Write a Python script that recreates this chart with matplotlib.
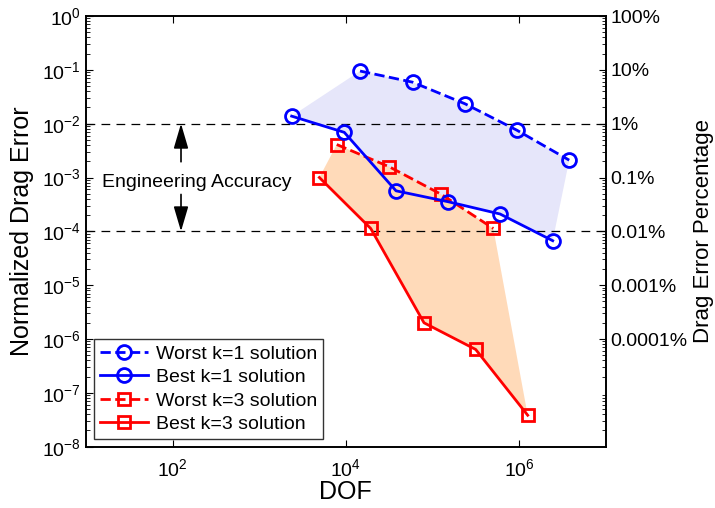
import numpy as np
import matplotlib.pyplot as plt
from matplotlib.ticker import FixedLocator, LogLocator, NullFormatter

plt.rcParams['font.family'] = ['Liberation Sans', 'DejaVu Sans']
plt.rcParams['mathtext.fontset'] = 'custom'
plt.rcParams['mathtext.rm'] = 'Liberation Sans'
plt.rcParams['mathtext.it'] = 'Liberation Sans'

# data
worst_k1_dof = [1.46e4, 5.9e4, 2.38e5, 9.4e5, 3.8e6]
worst_k1_err = [0.095, 0.059, 0.0234, 0.0076, 0.0021]
best_k1_dof = [2370, 9600, 3.8e4, 1.53e5, 6.04e5, 2.45e6]
best_k1_err = [0.0138, 0.0069, 5.66e-4, 3.54e-4, 2.1e-4, 6.7e-5]
worst_k3_dof = [7860, 3.18e4, 1.27e5, 5.05e5]
worst_k3_err = [4.1e-3, 1.58e-3, 4.85e-4, 1.13e-4]
best_k3_dof = [4950, 1.94e4, 8.0e4, 3.16e5, 1.26e6]
best_k3_err = [1.0e-3, 1.13e-4, 2.0e-6, 6.4e-7, 3.84e-8]

accuracy_band = [1e-2, 1e-4]
x_ticks = [1e2, 1e4, 1e6]
y_ticks = [1e-8, 1e-7, 1e-6, 1e-5, 1e-4, 1e-3, 1e-2, 1e-1, 1e0]
pct_ticks = [1e0, 1e-1, 1e-2, 1e-3, 1e-4, 1e-5, 1e-6]
pct_labels = ['100%', '10%', '1%', '0.1%', '0.01%', '0.001%', '0.0001%']

fig = plt.figure(figsize=(7.15, 5.08), dpi=100)
ax = fig.add_axes([0.1203, 0.1207, 0.7267, 0.8478])

# shaded envelopes between best and worst runs
ax.fill(best_k1_dof + worst_k1_dof[::-1], best_k1_err + worst_k1_err[::-1],
        color='lavender', lw=0, zorder=1)
ax.fill(best_k3_dof + worst_k3_dof[::-1], best_k3_err + worst_k3_err[::-1],
        color='peachpuff', lw=0, zorder=1)

for yv in accuracy_band:
    ax.axhline(yv, color='black', ls=(0, (7, 5)), lw=0.9, zorder=2)

ax.plot(worst_k1_dof, worst_k1_err, 'b--o', lw=2, ms=10, mew=2, mfc='none',
        label='Worst k=1 solution', zorder=4)
ax.plot(best_k1_dof, best_k1_err, 'b-o', lw=2, ms=10, mew=2, mfc='none',
        label='Best k=1 solution', zorder=4)
ax.plot(worst_k3_dof, worst_k3_err, 'r--s', lw=2, ms=8.5, mew=2, mfc='none',
        label='Worst k=3 solution', zorder=3)
ax.plot(best_k3_dof, best_k3_err, 'r-s', lw=2, ms=8.5, mew=2, mfc='none',
        label='Best k=3 solution', zorder=3)

# engineering accuracy arrows
arrow = dict(arrowstyle='-|>,head_length=0.85,head_width=0.25',
             color='black', lw=1.2, mutation_scale=18, shrinkA=0, shrinkB=0)
ax.annotate('', xy=(125, 1e-2), xytext=(125, 1.96e-3), arrowprops=arrow)
ax.annotate('', xy=(125, 1e-4), xytext=(125, 4.85e-4), arrowprops=arrow)
ax.text(190, 8.2e-4, 'Engineering Accuracy', fontsize=14,
        ha='center', va='center')

ax.set_xscale('log')
ax.set_yscale('log')
ax.set_xlim(1e1, 1e7)
ax.set_ylim(1e-8, 1e0)
ax.xaxis.set_major_locator(FixedLocator(x_ticks))
ax.yaxis.set_major_locator(FixedLocator(y_ticks))
ax.xaxis.set_minor_formatter(NullFormatter())
ax.yaxis.set_minor_locator(LogLocator(base=10, subs=np.arange(2, 10), numticks=20))
ax.yaxis.set_minor_formatter(NullFormatter())
ax.tick_params(which='both', direction='in', top=True, labelsize=14)
ax.tick_params(axis='x', which='minor', bottom=False, top=False)
ax.tick_params(which='major', length=5)
ax.tick_params(which='minor', length=3)
ax.tick_params(axis='x', pad=8)
ax.set_xlabel('DOF', fontsize=18, labelpad=0)
ax.set_ylabel('Normalized Drag Error', fontsize=18, labelpad=6)

leg = ax.legend(loc='lower left', fontsize=14, frameon=True, fancybox=False,
                edgecolor='black', handlelength=2.5, borderaxespad=0.4,
                labelspacing=0.3, borderpad=0.3, handletextpad=0.4)
leg.get_frame().set_linewidth(1.0)

ax2 = ax.twinx()
ax2.set_yscale('log')
ax2.set_ylim(1e-8, 1e0)
ax2.yaxis.set_major_locator(FixedLocator(pct_ticks))
ax2.set_yticklabels(pct_labels)
ax2.yaxis.set_minor_locator(LogLocator(base=10, subs=np.arange(2, 10), numticks=20))
ax2.yaxis.set_minor_formatter(NullFormatter())
ax2.tick_params(which='both', direction='in', labelsize=14)
ax2.tick_params(which='major', length=5)
ax2.tick_params(which='minor', length=3)
ax2.set_ylabel('Drag Error Percentage', fontsize=16, labelpad=4)

for a in (ax, ax2):
    for s in a.spines.values():
        s.set_linewidth(1.2)

fig.savefig('out.png', dpi=100)
